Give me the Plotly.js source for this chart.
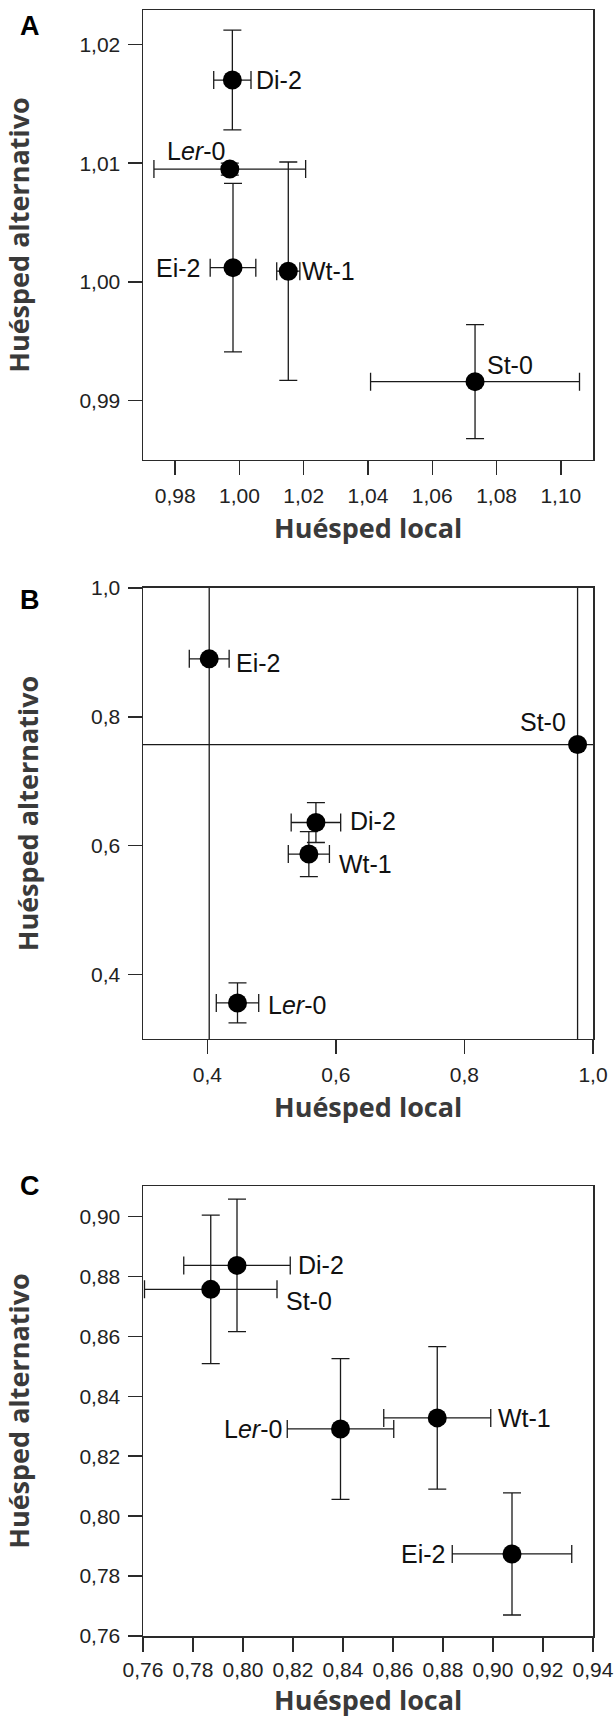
<!DOCTYPE html>
<html>
<head>
<meta charset="utf-8">
<script src="https://cdn.plot.ly/plotly-3.0.1.min.js"></script>
<style>html,body{margin:0;padding:0;background:#fff;}#chart{width:614px;height:1719px;}</style>
</head>
<body>
<div id="chart"></div>
<script>
// ---------- DATA ----------
const strains = ['Di-2', 'Ler-0', 'Ei-2', 'Wt-1', 'St-0'];
const strainLabels = ['Di-2', 'L<i>er</i>-0', 'Ei-2', 'Wt-1', 'St-0'];

// Panel A
const aLocal    = [0.9978, 0.9970, 0.9980, 1.0152, 1.0733];
const aLocalErr = [0.0058, 0.0236, 0.0071, 0.0036, 0.0325];
const aAlt      = [1.0170, 1.0095, 1.0012, 1.0009, 0.9916];
const aAltErr   = [0.0042, 0.0005, 0.0071, 0.0092, 0.0048];

// Panel B
const bLocal    = [0.569, 0.447, 0.403, 0.558, 0.976];
const bLocalErr = [0.0385, 0.033, 0.031, 0.032, 0.8];
const bAlt      = [0.636, 0.356, 0.890, 0.587, 0.757];
const bAltErr   = [0.031, 0.031, 0.7, 0.035, 0.6];

// Panel C
const cLocal    = [0.7976, 0.8390, 0.9076, 0.8777, 0.7871];
const cLocalErr = [0.0213, 0.0213, 0.0239, 0.0214, 0.0265];
const cAlt      = [0.8837, 0.8291, 0.7874, 0.8328, 0.8757];
const cAltErr   = [0.0221, 0.0235, 0.0204, 0.0238, 0.0248];

// Tick values
const aXTicks = [0.98, 1.00, 1.02, 1.04, 1.06, 1.08, 1.10];
const aYTicks = [0.99, 1.00, 1.01, 1.02];
const bXTicks = [0.4, 0.6, 0.8, 1.0];
const bYTicks = [0.4, 0.6, 0.8, 1.0];
const cXTicks = [0.76, 0.78, 0.80, 0.82, 0.84, 0.86, 0.88, 0.90, 0.92, 0.94];
const cYTicks = [0.76, 0.78, 0.80, 0.82, 0.84, 0.86, 0.88, 0.90];

const panelLetters = ['A', 'B', 'C'];
const xTitle = 'Huésped local';
const yTitle = 'Huésped alternativo';

// ---------- STYLE (label placement in px, per strain) ----------
const labelPlacement = {
  A: [[22, 0, 'left'], [-3, 18, 'right'], [-31, 0, 'right'], [12, 0, 'left'], [10, 17, 'left']],
  B: [[32, 2, 'left'], [28, -2, 'left'], [25, -4, 'left'], [28, -10, 'left'], [-10, 23, 'right']],
  C: [[59, 0, 'left'], [-57, 0, 'right'], [-65, 0, 'right'], [59, 0, 'left'], [73, -12, 'left']]
};
const letterY = [0.99016, 0.63715, 0.27675];      // paper y of panel letters
// paper y and anchor of x-axis titles
const xTitlePos = [[0.68143, 'middle'], [0.32534, 'middle'], [-0.05105, 'bottom']];
const xLabelStandoff = [2, 2, 0];

const ink = '#1a1a1a';
const axisInk = '#2a2a2a';
const tickFont = {family: 'Arial, "Liberation Sans", sans-serif', size: 21, color: '#222'};
const labelFont = {family: 'Arial, "Liberation Sans", sans-serif', size: 25, color: '#111'};
const titleFont = {family: '"Open Sans", sans-serif', size: 27, color: '#3a3a3a', weight: 700};

function trace(xs, xe, ys, ye, xa, ya) {
  return {
    type: 'scatter', mode: 'markers',
    x: xs, y: ys, xaxis: xa, yaxis: ya,
    text: strains, hoverinfo: 'text',
    marker: {color: '#000', size: 19},
    error_x: {type: 'data', array: xe, visible: true, color: ink, thickness: 1.3, width: 9},
    error_y: {type: 'data', array: ye, visible: true, color: ink, thickness: 1.3, width: 9},
    showlegend: false
  };
}

const data = [
  trace(aLocal, aLocalErr, aAlt, aAltErr, 'x', 'y'),
  trace(bLocal, bLocalErr, bAlt, bAltErr, 'x2', 'y2'),
  trace(cLocal, cLocalErr, cAlt, cAltErr, 'x3', 'y3')
];

function xaxis(range, ticks, fmt, anchor, standoff) {
  return {
    range: range, anchor: anchor, domain: [0, 1],
    tickmode: 'array', tickvals: ticks, tickformat: fmt,
    ticks: 'outside', ticklen: 14, tickwidth: 1.5, tickcolor: axisInk,
    ticklabelstandoff: standoff,
    showline: true, linecolor: axisInk, linewidth: 1.5, mirror: true,
    showgrid: false, zeroline: false, tickfont: tickFont
  };
}
function yaxis(range, ticks, fmt, anchor, domain) {
  return {
    range: range, anchor: anchor, domain: domain,
    tickmode: 'array', tickvals: ticks, tickformat: fmt,
    ticks: 'outside', ticklen: 14, tickwidth: 1.5, tickcolor: axisInk,
    ticklabelstandoff: 3,
    showline: true, linecolor: axisInk, linewidth: 1.5, mirror: true,
    showgrid: false, zeroline: false, tickfont: tickFont,
    title: {text: yTitle, font: titleFont, standoff: 44}
  };
}

const annotations = [];
function addLabels(key, xs, ys, xref, yref) {
  strains.forEach((s, i) => {
    const p = labelPlacement[key][i];
    annotations.push({
      x: xs[i], y: ys[i], xref: xref, yref: yref,
      text: strainLabels[i], showarrow: false,
      xanchor: p[2], yanchor: 'middle', xshift: p[0], yshift: p[1],
      font: labelFont
    });
  });
}
addLabels('A', aLocal, aAlt, 'x', 'y');
addLabels('B', bLocal, bAlt, 'x2', 'y2');
addLabels('C', cLocal, cAlt, 'x3', 'y3');

panelLetters.forEach((L, i) => {
  annotations.push({
    text: '<b>' + L + '</b>', xref: 'paper', yref: 'paper',
    x: -0.278, y: letterY[i], xanchor: 'left', yanchor: 'middle',
    showarrow: false,
    font: {family: 'Arial, "Liberation Sans", sans-serif', size: 27, color: '#000'}
  });
  annotations.push({
    text: xTitle, xref: 'paper', yref: 'paper',
    x: 0.5, y: xTitlePos[i][0], xanchor: 'center', yanchor: xTitlePos[i][1],
    showarrow: false, font: titleFont, borderpad: 0
  });
});

const layout = {
  width: 614, height: 1719,
  margin: {l: 143, r: 21, t: 10, b: 83},
  paper_bgcolor: '#fff', plot_bgcolor: '#fff',
  separators: ',.',
  showlegend: false,
  xaxis:  xaxis([0.97, 1.11], aXTicks, '.2f', 'y', xLabelStandoff[0]),
  yaxis:  yaxis([0.985, 1.0229], aYTicks, '.2f', 'x', [0.72325, 1.0]),
  xaxis2: xaxis([0.3, 1.0], bXTicks, '.1f', 'y2', xLabelStandoff[1]),
  yaxis2: yaxis([0.3, 1.0], bYTicks, '.1f', 'x2', [0.36716, 0.64453]),
  xaxis3: xaxis([0.76, 0.94], cXTicks, '.2f', 'y3', xLabelStandoff[2]),
  yaxis3: yaxis([0.76, 0.9102], cYTicks, '.2f', 'x3', [0.0, 0.27675]),
  annotations: annotations
};

Plotly.newPlot('chart', data, layout, {displayModeBar: false, staticPlot: true});
</script>
</body>
</html>
